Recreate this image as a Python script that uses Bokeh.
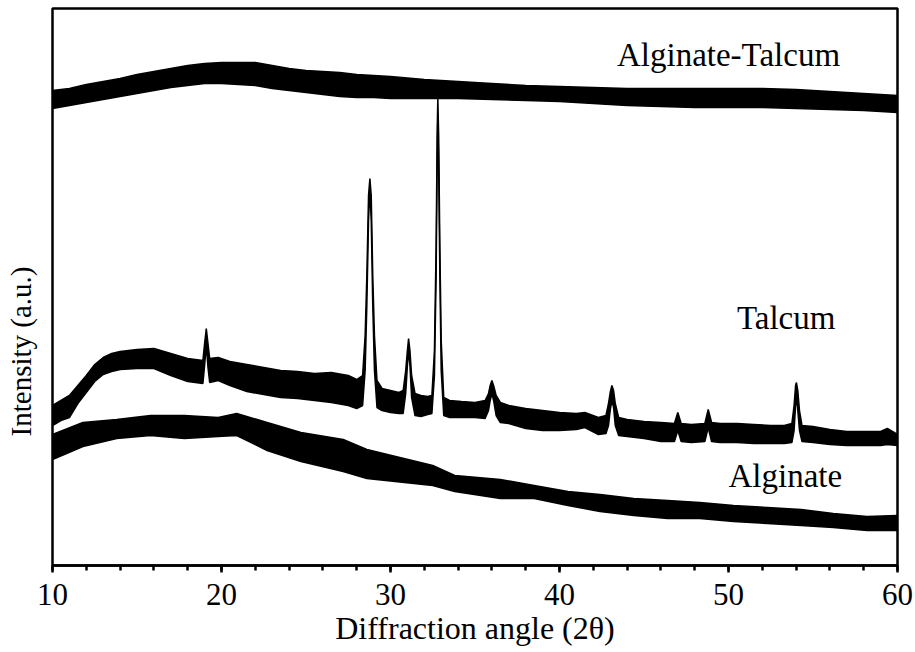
from bokeh.plotting import figure
from bokeh.models import Range1d, SingleIntervalTicker, FixedTicker, Label, Title
from bokeh.embed import file_html
from bokeh.resources import INLINE

# ---- data (intensity in arbitrary units) ----
at_angle = [10, 11, 12, 13, 14, 15, 16, 17, 18, 19, 20, 21, 22, 23, 24, 25, 26, 27, 28, 29, 30,
            32, 34, 36, 38, 40, 42, 44, 46, 48, 50, 52, 54, 56, 58, 60]
at_upper = [475, 477, 481, 484, 487, 491, 494, 497, 500, 502, 503, 503, 503, 500, 497, 495, 494, 493, 491, 490, 489,
            486, 484, 482, 480, 479, 478, 477, 477, 477, 477, 477, 476, 474, 472, 470]
at_lower = [457, 460, 463, 466, 469, 472, 475, 478, 480, 482, 482, 481, 480, 477, 475, 473, 471, 469, 468, 468, 467,
            467, 467, 466, 465, 464, 462, 460, 459, 458, 458, 458, 457, 456, 455, 453]

talc_angle = [10.0, 10.5, 11.0, 11.5, 12.0, 12.5, 13.0, 13.5, 14.0, 15.0, 16.0, 17.0, 18.0,
              18.9, 19.0, 19.1, 19.2, 19.3,
              19.8, 20.5, 21.5, 22.5, 23.5, 24.5, 25.5, 26.5, 27.5, 28.0,
              28.35, 28.5, 28.6, 28.7, 28.78, 28.86, 28.95, 29.05, 29.2,
              29.5, 30.0, 30.5,
              30.75, 30.9, 31.0, 31.07, 31.15, 31.25, 31.45,
              31.8, 32.2,
              32.45, 32.6, 32.7, 32.76, 32.8, 32.85, 32.92, 33.0, 33.15,
              33.5, 34.2, 35.0,
              35.6, 35.8, 35.9, 36.0, 36.1, 36.25, 36.5,
              37.0, 38.0, 39.0, 40.0, 41.0, 41.5, 42.3,
              42.75, 42.9, 43.0, 43.1, 43.2, 43.3, 43.5,
              44.0, 45.0, 46.0,
              46.8, 47.0, 47.2,
              47.8,
              48.6, 48.8, 49.0,
              49.5, 50.5, 51.5, 52.5, 53.3,
              53.75, 53.88, 53.97, 54.02, 54.1, 54.2, 54.35,
              55.0, 56.0, 57.0, 58.0, 59.0, 59.4, 60.0]
talc_upper = [160, 165, 170, 180, 190, 201, 208, 212, 214, 216, 217, 212, 207,
              205, 222, 237, 222, 207,
              208, 204, 201, 198, 195, 194, 192, 193, 190, 186,
              190, 230, 290, 370, 387, 370, 290, 230, 185,
              177, 175, 173,
              175, 195, 215, 227, 215, 190, 172,
              170, 169,
              170, 215, 320, 430, 468, 430, 320, 225, 168,
              165, 164, 163,
              165, 172, 180, 185, 180, 170, 163,
              160, 157, 155, 153, 152, 153, 148,
              150, 162, 173, 180, 175, 162, 148,
              146, 144, 143,
              142, 153, 142,
              141,
              142, 156, 143,
              142, 142, 141, 140, 140,
              142, 160, 180, 183, 175, 155, 140,
              139, 136, 134, 134, 134, 137, 131]
talc_lower = [140, 145, 148, 162, 173, 184, 191, 194, 196, 197, 197, 190, 184,
              182, 200, 220, 198, 183,
              185, 180, 174, 171, 168, 167, 165, 163, 160, 157,
              160, 195, 260, 345, 375, 345, 260, 195, 158,
              155, 153, 152,
              152, 172, 200, 215, 200, 168, 150,
              149, 151,
              152, 190, 290, 400, 450, 400, 290, 195, 150,
              148, 148, 148,
              147, 155, 165, 172, 165, 150, 143,
              142, 137, 135, 135, 136, 138, 131,
              132, 140, 155, 165, 158, 140, 130,
              129, 127, 124,
              124, 135, 124,
              123,
              124, 138, 124,
              123, 123, 122, 122, 122,
              123, 135, 160, 170, 155, 135, 124,
              123, 121, 120, 120, 120, 121, 120]

alg_angle = [10, 11.8, 13.8, 15.8, 17.8, 19.8, 20.9, 22.7, 24.7, 27.2, 28.6, 32.5, 33.8, 36.5,
             38.5, 40.5, 42.4, 44.4, 46.4, 48.3, 50.3, 52.3, 54.3, 56.2, 58.2, 60]
alg_upper = [131, 143, 146, 150, 150, 148, 152, 143, 133, 126, 116, 100, 90, 86,
             80, 74, 71, 67, 65, 63, 60, 58, 56, 52, 49, 50]
alg_lower = [106, 119, 127, 130, 127, 129, 130, 115, 104, 94, 87, 80, 74, 67,
             67, 60, 54, 50, 47, 47, 44, 42, 40, 38, 35, 35]

x_ticks_major = 10
series_names = ["Alginate-Talcum", "Talcum", "Alginate"]
label_x = [43.4, 50.5, 50.0]
label_y = [511, 248, 90]
y_title = "Intensity (a.u.)"
y_title_pos = 214
x_title = "Diffraction angle (2θ)"

FONT = "Liberation Serif"

p = figure(width=915, height=652, output_backend="svg", toolbar_location=None,
           x_range=Range1d(10, 60), y_range=Range1d(0, 557),
           min_border_left=52, min_border_right=18, min_border_top=8, min_border_bottom=87)
p.background_fill_color = "white"
p.border_fill_color = "white"
p.grid.grid_line_color = None
p.outline_line_color = "black"
p.outline_line_width = 2.5
p.outline_line_alpha = 1

ax = p.xaxis[0]
ax.ticker = SingleIntervalTicker(interval=x_ticks_major, num_minor_ticks=5)
ax.axis_line_width = 2.5
ax.axis_line_color = "black"
ax.major_tick_line_width = 2.5
ax.minor_tick_line_width = 2.5
ax.major_tick_line_color = "black"
ax.minor_tick_line_color = "black"
ax.major_tick_out = 7
ax.major_tick_in = 0
ax.minor_tick_out = 5
ax.minor_tick_in = 0
ax.major_label_text_font = FONT
ax.major_label_text_font_size = "31px"
ax.major_label_text_color = "black"
ax.major_label_standoff = 11

# y axis: only a rotated title placed off-centre
ay = p.yaxis[0]
ay.ticker = FixedTicker(ticks=[y_title_pos], minor_ticks=[])
ay.major_label_overrides = {y_title_pos: y_title}
ay.major_label_orientation = "vertical"
ay.major_label_text_font = FONT
ay.major_label_text_font_size = "29px"
ay.major_label_text_color = "black"
ay.major_label_standoff = 16
ay.axis_line_color = None
ay.major_tick_line_color = None
ay.minor_tick_line_color = None
ay.major_tick_out = 0
ay.major_tick_in = 0

for xs, up, lo in [(at_angle, at_upper, at_lower),
                   (talc_angle, talc_upper, talc_lower),
                   (alg_angle, alg_upper, alg_lower)]:
    p.varea(x=xs, y1=lo, y2=up, fill_color="black")
    p.line(xs, up, line_color="black", line_width=1.5)
    p.line(xs, lo, line_color="black", line_width=1.5)

for name, lx, ly in zip(series_names, label_x, label_y):
    p.add_layout(Label(x=lx, y=ly, text=name, text_font=FONT, text_font_size="33px",
                       text_color="black", text_baseline="alphabetic"))

p.add_layout(Title(text=x_title, text_font=FONT, text_font_size="32px",
                   text_font_style="normal", text_color="black", align="center", standoff=0),
             "below")

open("out.html", "w").write(file_html(p, INLINE))
